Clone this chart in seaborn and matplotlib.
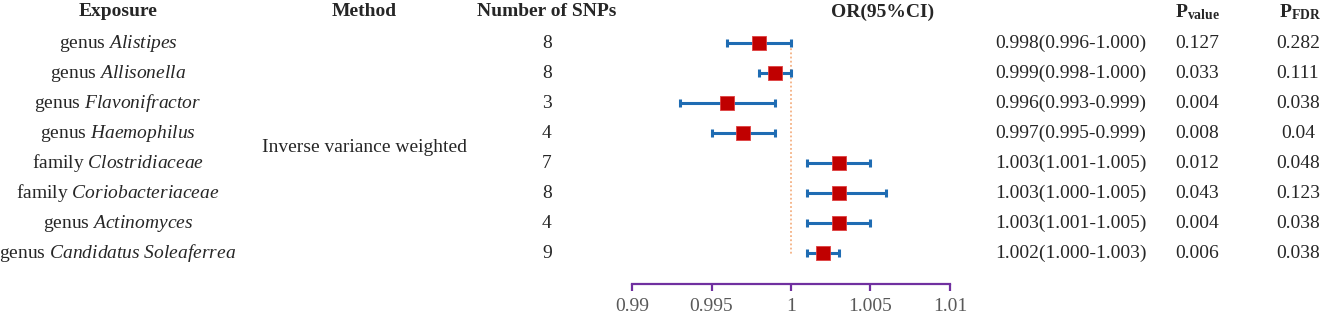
import matplotlib
matplotlib.use("Agg")
import matplotlib.pyplot as plt
import matplotlib.transforms as mtransforms
import seaborn as sns
import pandas as pd
import numpy as np

# ---------------- data ----------------
exposures = [
    r"genus $\mathit{Alistipes}$",
    r"genus $\mathit{Allisonella}$",
    r"genus $\mathit{Flavonifractor}$",
    r"genus $\mathit{Haemophilus}$",
    r"family $\mathit{Clostridiaceae}$",
    r"family $\mathit{Coriobacteriaceae}$",
    r"genus $\mathit{Actinomyces}$",
    r"genus $\mathit{Candidatus\ Soleaferrea}$",
]
method = "Inverse variance weighted"
n_snps = [8, 8, 3, 4, 7, 8, 4, 9]
or_est = [0.998, 0.999, 0.996, 0.997, 1.003, 1.003, 1.003, 1.002]
ci_low = [0.996, 0.998, 0.993, 0.995, 1.001, 1.001, 1.001, 1.001]
ci_high = [1.000, 1.000, 0.999, 0.999, 1.005, 1.006, 1.005, 1.003]
or_text = ["0.998(0.996-1.000)", "0.999(0.998-1.000)", "0.996(0.993-0.999)",
           "0.997(0.995-0.999)", "1.003(1.001-1.005)", "1.003(1.000-1.005)",
           "1.003(1.001-1.005)", "1.002(1.000-1.003)"]
p_value = ["0.127", "0.033", "0.004", "0.008", "0.012", "0.043", "0.004", "0.006"]
p_fdr = ["0.282", "0.111", "0.038", "0.04", "0.048", "0.123", "0.038", "0.038"]
x_ticks = [0.99, 0.995, 1.0, 1.005, 1.01]
x_ticklabels = ["0.99", "0.995", "1", "1.005", "1.01"]

df = pd.DataFrame({"row": np.arange(len(exposures)), "or": or_est,
                   "lo": ci_low, "hi": ci_high})

# ---------------- style ----------------
sns.set_style("white")
plt.rcParams["font.family"] = ["Liberation Serif", "DejaVu Serif"]
plt.rcParams["mathtext.fontset"] = "custom"
plt.rcParams["mathtext.rm"] = "Liberation Serif"
plt.rcParams["mathtext.it"] = "Liberation Serif:italic"
plt.rcParams["mathtext.bf"] = "Liberation Serif:bold"

W, H = 1325, 318
fig = plt.figure(figsize=(W / 100, H / 100), dpi=100)

# forest axes: x 0.99 -> px 632, 1.01 -> px 950 ; bottom spine at px 284
ax_left, ax_right = 632 / W, 950 / W
ax_bottom = (H - 284) / H
ax = fig.add_axes([ax_left, ax_bottom, ax_right - ax_left, 1 - ax_bottom])
ax.set_facecolor("none")

row_px0, row_step = 43, 30
ax.set_ylim((284 - row_px0) / row_step, -row_px0 / row_step)
ax.set_xlim(0.99, 1.01)

blue = "#1F6CB3"
red = "#C00000"

ax.vlines(1.0, -0.1, 7.05, colors="#F4B183", linestyles=(0, (1, 1.3)), linewidth=1.3, zorder=1)
ax.errorbar(df["or"], df["row"], xerr=[df["or"] - df["lo"], df["hi"] - df["or"]],
            fmt="none", ecolor=blue, elinewidth=2.2, capsize=3.2, capthick=2.2, zorder=2)
sns.scatterplot(data=df, x="or", y="row", marker="s", s=95, color=red,
                edgecolor="#E04040", linewidth=0.6, ax=ax, zorder=3, legend=False)

for s in ["top", "left", "right"]:
    ax.spines[s].set_visible(False)
ax.spines["bottom"].set_color("#7030A0")
ax.spines["bottom"].set_linewidth(1.6)
ax.set_xticks(x_ticks)
ax.set_xticklabels(x_ticklabels)
ax.tick_params(axis="x", bottom=True, direction="out", length=5, width=1.6, color="#7030A0",
               labelsize=14, labelcolor="#595959", pad=5)
ax.set_yticks([])
ax.set_xlabel("")
ax.set_ylabel("")

# ---------------- table text ----------------
tr = mtransforms.blended_transform_factory(fig.transFigure, ax.transData)
fs = 14
hdr_y = (12 - row_px0) / row_step


def fx(px):
    return px / W


headers = [(118, "Exposure"), (364, "Method"), (547, "Number of SNPs"),
           (883, "OR(95%CI)"), (1197, r"$\mathbf{P}_{\mathbf{value}}$"),
           (1300, r"$\mathbf{P}_{\mathbf{FDR}}$")]
for px, t in headers:
    ax.text(fx(px), hdr_y, t, transform=tr, ha="center", va="center",
            fontsize=fs, fontweight="bold", clip_on=False)

for i in range(len(exposures)):
    ax.text(fx(118), i, exposures[i], transform=tr, ha="center", va="center", fontsize=fs, clip_on=False)
    ax.text(fx(547), i, str(n_snps[i]), transform=tr, ha="center", va="center", fontsize=fs, clip_on=False)
    ax.text(fx(1071), i, or_text[i], transform=tr, ha="center", va="center", fontsize=fs, clip_on=False)
    ax.text(fx(1197), i, p_value[i], transform=tr, ha="center", va="center", fontsize=fs, clip_on=False)
    ax.text(fx(1298), i, p_fdr[i], transform=tr, ha="center", va="center", fontsize=fs, clip_on=False)

ax.text(fx(364), (148 - row_px0) / row_step, method, transform=tr, ha="center",
        va="center", fontsize=fs, clip_on=False)

fig.savefig("out.png", dpi=100)
